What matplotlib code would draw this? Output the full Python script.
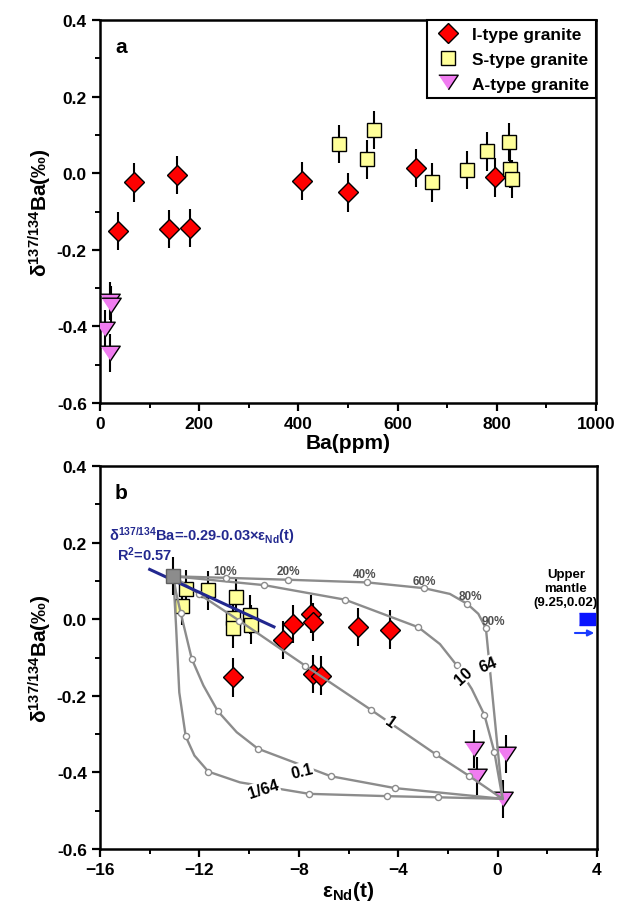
import matplotlib
matplotlib.use("Agg")
import matplotlib.pyplot as plt
from matplotlib.ticker import MultipleLocator, FormatStrFormatter

plt.rcParams['font.family'] = ['Liberation Sans', 'DejaVu Sans']
plt.rcParams['font.weight'] = 'bold'
plt.rcParams['axes.labelweight'] = 'bold'
plt.rcParams['mathtext.fontset'] = 'custom'
plt.rcParams['mathtext.rm'] = 'Liberation Sans:bold'
plt.rcParams['mathtext.it'] = 'Liberation Sans:bold'
plt.rcParams['mathtext.bf'] = 'Liberation Sans:bold'

# ---- panel a: Ba (ppm) vs d137/134Ba ----
i_ba = [37, 69, 140, 156, 182, 407, 501, 637, 796]
i_da = [-0.150, -0.024, -0.146, -0.004, -0.143, -0.020, -0.050, 0.013, -0.011]
s_ba = [481, 538, 553, 669, 739, 781, 825, 827, 830]
s_da = [0.077, 0.036, 0.112, -0.024, 0.008, 0.057, 0.081, 0.011, -0.015]
a_ba = [21, 23, 10, 20]
a_da = [-0.333, -0.345, -0.407, -0.469]

# ---- panel b: eNd(t) vs d137/134Ba ----
i_nd = [-10.63, -8.62, -8.22, -7.51, -7.42, -7.44, -7.11, -5.60, -4.33]
i_db = [-0.152, -0.054, -0.012, 0.014, -0.008, -0.143, -0.147, -0.021, -0.027]
s_nd = [-12.54, -12.71, -11.64, -10.53, -10.64, -10.64, -9.98, -9.92]
s_db = [0.079, 0.035, 0.075, 0.057, 0.004, -0.024, 0.012, -0.014]
a_nd = [-0.95, -0.84, 0.34, 0.20]
a_db = [-0.339, -0.410, -0.352, -0.469]
err = 0.05

# crustal end member (grey square)
em_nd, em_d = -13.05, 0.112

# mixing curves, vertices, circles = marked steps
curves = {
    '64': ([-13.05, -10.93, -8.42, -5.24, -2.96, -1.92, -1.22, -0.775, -0.47, 0.20],
           [0.112, 0.108, 0.103, 0.096, 0.081, 0.066, 0.040, 0.014, -0.024, -0.469]),
    '10': ([-13.05, -9.40, -6.14, -3.19, -2.32, -1.65, -1.04, -0.53, -0.13, 0.20],
           [0.112, 0.089, 0.051, -0.021, -0.065, -0.120, -0.182, -0.250, -0.347, -0.469]),
    '1': ([-13.05, -12.00, -10.39, -7.75, -5.11, -2.48, -1.15, 0.20],
          [0.112, 0.065, -0.004, -0.121, -0.236, -0.353, -0.409, -0.469]),
    '0.1': ([-13.05, -12.94, -12.75, -12.31, -11.84, -11.26, -10.50, -9.65, -6.71, -4.13, 0.20],
            [0.112, 0.070, 0.016, -0.103, -0.173, -0.240, -0.295, -0.338, -0.410, -0.441, -0.469]),
    '1/64': ([-13.05, -12.94, -12.81, -12.55, -12.20, -11.64, -10.37, -7.58, -4.44, -2.38, 0.20],
             [0.112, -0.017, -0.191, -0.306, -0.356, -0.398, -0.426, -0.456, -0.462, -0.465, -0.469]),
}
circles = {
    '64': [1, 2, 3, 4, 6, 8],
    '10': [1, 2, 3, 5, 7, 8],
    '1': [1, 2, 3, 4, 5, 6],
    '0.1': [2, 3, 5, 7, 8, 9],
    '1/64': [3, 5, 7, 8, 9],
}
pct_labels = ['10%', '20%', '40%', '60%', '80%', '90%']
pct_x = [-10.97, -8.42, -5.34, -2.96, -1.08, -0.17]
pct_y = [0.127, 0.127, 0.118, 0.099, 0.060, -0.005]

curve_lab_x = {'64': -0.37, '10': -1.38, '1': -4.33, '0.1': -7.88, '1/64': -9.43}
curve_lab_y = {'64': -0.117, '10': -0.147, '1': -0.269, '0.1': -0.396, '1/64': -0.443}
curve_lab_rot = {'64': 22, '10': 42, '1': -35, '0.1': 14, '1/64': 18}

# regression line on the granite samples
reg_a, reg_b = -0.29, -0.03
reg_x = [-14.0, -9.0]

# upper mantle sits far off the right edge; marker parked at the border
um_x, um_y = 3.6, 0.0

RED = '#ff0000'
YEL = '#ffff99'
PINK = '#f07cf0'
GREY = '#8c8c8c'
NAVY = '#22288f'
tri = [(-1, 0.75), (1, 0.75), (0, -0.75)]

fig = plt.figure(figsize=(6.19, 9.03), dpi=100)
ax_a = fig.add_axes([100 / 619, 1 - 404 / 903, 496 / 619, 383 / 903])
ax_b = fig.add_axes([100 / 619, 1 - 850 / 903, 497 / 619, 383 / 903])


def style(ax):
    for sp in ax.spines.values():
        sp.set_linewidth(1.8)
    ax.tick_params(which='major', direction='out', length=6, width=1.6, labelsize=12.5)
    ax.tick_params(which='minor', direction='out', length=3.5, width=1.4)
    ax.set_ylim(-0.6, 0.4)
    ax.yaxis.set_major_locator(MultipleLocator(0.2))
    ax.yaxis.set_minor_locator(MultipleLocator(0.1))
    ax.yaxis.set_major_formatter(FormatStrFormatter('%.1f'))
    ax.set_ylabel('δ$^{137/134}$Ba(‰)', fontsize=15, labelpad=2)


def samples(ax, xs, ys, marker, color, ms, label=None, z=4):
    ax.errorbar(xs, ys, yerr=err, fmt='none', ecolor='black', elinewidth=1.5, zorder=z - 1)
    ax.plot(xs, ys, linestyle='none', marker=marker, ms=ms, mfc=color, mec='black',
            mew=1.0, label=label, zorder=z)


# panel a
style(ax_a)
ax_a.set_xlim(0, 1000)
ax_a.xaxis.set_major_locator(MultipleLocator(200))
ax_a.xaxis.set_minor_locator(MultipleLocator(100))
ax_a.set_xlabel('Ba(ppm)', fontsize=15, labelpad=1)
samples(ax_a, i_ba, i_da, 'D', RED, 10.3, 'I-type granite')
samples(ax_a, s_ba, s_da, 's', YEL, 10, 'S-type granite')
samples(ax_a, a_ba, a_da, tri, PINK, 14, 'A-type granite')
ax_a.text(0.03, 0.955, 'a', transform=ax_a.transAxes, fontsize=15, va='top')
leg = ax_a.legend(loc='upper right', borderaxespad=0, fancybox=False, framealpha=1,
                  edgecolor='black', fontsize=12.5, handlelength=1.6, handletextpad=0.6,
                  labelspacing=0.55, borderpad=0.4)
leg.get_frame().set_linewidth(1.5)

# panel b
style(ax_b)
ax_b.set_xlim(-16, 4)
ax_b.xaxis.set_major_locator(MultipleLocator(4))
ax_b.xaxis.set_minor_locator(MultipleLocator(2))
ax_b.set_xlabel('ε$_{Nd}$(t)', fontsize=15, labelpad=1)
samples(ax_b, i_nd, i_db, 'D', RED, 10.3)
samples(ax_b, s_nd, s_db, 's', YEL, 9.6)
samples(ax_b, a_nd, a_db, tri, PINK, 14)

for key, (cx, cy) in curves.items():
    ax_b.plot(cx, cy, color=GREY, lw=1.7, zorder=5, solid_joinstyle='round')
    ax_b.plot([cx[i] for i in circles[key]], [cy[i] for i in circles[key]],
              linestyle='none', marker='o', ms=4.4, mfc='white', mec=GREY, mew=1.0, zorder=6)
    ax_b.text(curve_lab_x[key], curve_lab_y[key], key, fontsize=11.5, rotation=curve_lab_rot[key],
              ha='center', va='center', zorder=7,
              bbox=dict(boxstyle='square,pad=0.05', fc='white', ec='none'))

for lab, px, py in zip(pct_labels, pct_x, pct_y):
    ax_b.text(px, py, lab, fontsize=8.5, color='#505050', ha='center', va='center', zorder=7)

ax_b.errorbar([em_nd], [em_d], yerr=err, fmt='none', ecolor='black', elinewidth=1.5, zorder=7)
ax_b.plot([em_nd], [em_d], linestyle='none', marker='s', ms=9.6, mfc=GREY, mec='#606060',
          mew=1.0, zorder=8)

ax_b.plot(reg_x, [reg_a + reg_b * x for x in reg_x], color=NAVY, lw=2.2, zorder=7)
ax_b.text(-15.64, 0.222, 'δ$^{137/134}$Ba=-0.29-0.03×ε$_{Nd}$(t)', color=NAVY, fontsize=10.5,
          va='center', ha='left')
ax_b.text(-15.32, 0.170, 'R$^{2}$=0.57', color=NAVY, fontsize=10.5, va='center', ha='left')

ax_b.plot([um_x], [um_y], linestyle='none', marker=[(-1, -0.7), (1, -0.7), (1, 0.7), (-1, 0.7)],
          ms=12, mfc='#0a14ff', mec='#0a14ff', zorder=6, clip_on=False)
ax_b.annotate('', xy=(4.0, -0.036), xytext=(3.0, -0.036),
              arrowprops=dict(arrowstyle='-|>', color='#1a3cff', lw=1.5, mutation_scale=9),
              annotation_clip=False)
ax_b.text(2.75, 0.082, 'Upper\nmantle\n(9.25,0.02)', fontsize=9.5, ha='center', va='center',
          linespacing=1.25)
ax_b.text(0.03, 0.955, 'b', transform=ax_b.transAxes, fontsize=15, va='top')

fig.savefig('out.png', dpi=100)
